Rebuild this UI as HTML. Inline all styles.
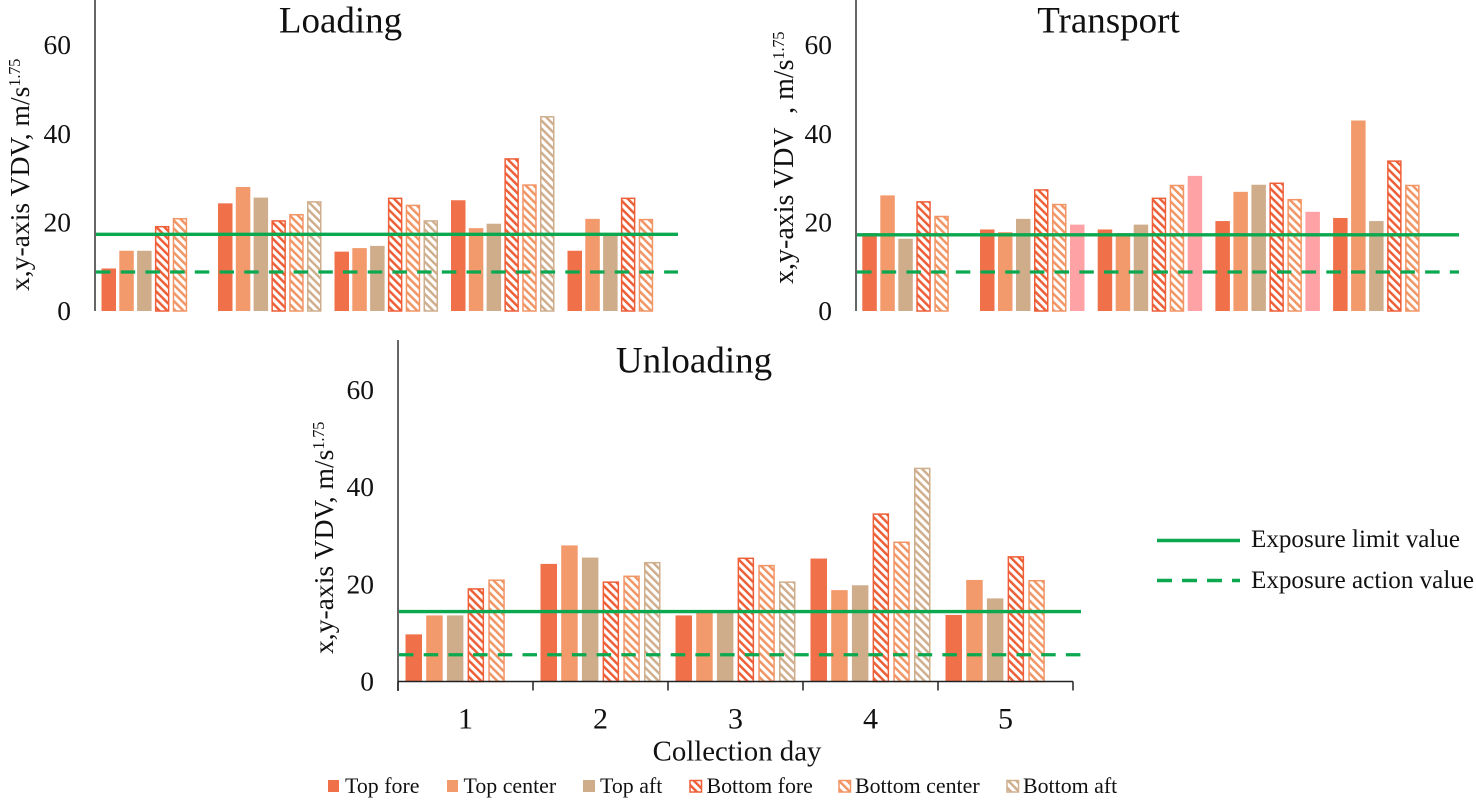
<!DOCTYPE html>
<html lang="en">
<head>
<meta charset="utf-8">
<title>x,y-axis VDV by collection day</title>
<style>
html,body{margin:0;padding:0;background:#fff;width:1476px;height:804px;overflow:hidden}
svg{display:block}
text{font-family:"Liberation Serif",serif;fill:#111}
</style>
</head>
<body>
<svg id="figure" xmlns="http://www.w3.org/2000/svg" width="1476" height="804" viewBox="0 0 1476 804">
  <defs>
    <pattern id="hatch-fore" patternUnits="userSpaceOnUse" width="5.7" height="5.7" patternTransform="rotate(-45)"><rect width="5.7" height="5.7" fill="#fff"/><rect width="2.5" height="5.7" fill="#EE5F38"/></pattern>
    <pattern id="hatch-center" patternUnits="userSpaceOnUse" width="5.7" height="5.7" patternTransform="rotate(-45)"><rect width="5.7" height="5.7" fill="#fff"/><rect width="2.5" height="5.7" fill="#F29565"/></pattern>
    <pattern id="hatch-aft" patternUnits="userSpaceOnUse" width="5.7" height="5.7" patternTransform="rotate(-45)"><rect width="5.7" height="5.7" fill="#fff"/><rect width="2.5" height="5.7" fill="#CFAE8D"/></pattern>
  </defs>

  <text x="340.5" y="32.5" font-size="37" text-anchor="middle">Loading</text>
  <text x="1108.5" y="32.5" font-size="37" text-anchor="middle">Transport</text>
  <text x="694" y="372.5" font-size="37" text-anchor="middle">Unloading</text>

  <text transform="translate(29,291) rotate(-90)" font-size="27.6">x,y-axis VDV, m/s<tspan font-size="16.5" letter-spacing="-0.3" dy="-9">1.75</tspan></text>
  <text transform="translate(793,284) rotate(-90)" font-size="28" xml:space="preserve">x,y-axis VDV  , m/s<tspan font-size="16.5" letter-spacing="-0.3" dy="-9">1.75</tspan></text>
  <text transform="translate(333,654) rotate(-90)" font-size="27.6">x,y-axis VDV, m/s<tspan font-size="16.5" letter-spacing="-0.3" dy="-9">1.75</tspan></text>

  <text x="737" y="760.5" font-size="28.8" text-anchor="middle">Collection day</text>

  <g font-size="21.9">
    <rect x="328" y="780" width="11" height="12" fill="#F0704A"/>
    <text x="345" y="793">Top fore</text>
    <rect x="447" y="780" width="11" height="12" fill="#F29A6B"/>
    <text x="463.5" y="793">Top center</text>
    <rect x="583" y="780" width="12" height="12" fill="#CFAD8A"/>
    <text x="600" y="793">Top aft</text>
    <rect x="690" y="780.5" width="11.5" height="11.5" fill="url(#hatch-fore)" stroke="#EE5F38" stroke-width="1.5"/>
    <text x="706.5" y="793">Bottom fore</text>
    <rect x="839" y="780.5" width="11.5" height="11.5" fill="url(#hatch-center)" stroke="#F29565" stroke-width="1.5"/>
    <text x="855" y="793">Bottom center</text>
    <rect x="1007" y="780.5" width="11.5" height="11.5" fill="url(#hatch-aft)" stroke="#CFAE8D" stroke-width="1.5"/>
    <text x="1023" y="793">Bottom aft</text>
  </g>

  <g font-size="25.1">
    <line x1="1157" x2="1240" y1="540.5" y2="540.5" stroke="#0BA850" stroke-width="3.4"/>
    <text x="1251" y="547">Exposure limit value</text>
    <line x1="1157" x2="1240" y1="580.5" y2="580.5" stroke="#0BA850" stroke-width="3.4" stroke-dasharray="15 10"/>
    <text x="1251" y="588">Exposure action value</text>
  </g>
</svg>

<script>
// Shared categories and tick labels
const days = ['1', '2', '3', '4', '5'];
const yTicks = [0, 20, 40, 60];

// Loading values (null means no bar)
const loadingTopFore = [9.6, 24.3, 13.4, 25.0, 13.6];
const loadingTopCenter = [13.6, 28.0, 14.2, 18.7, 20.8];
const loadingTopAft = [13.6, 25.6, 14.7, 19.7, 17.0];
const loadingBottomFore = [19.2, 20.5, 25.6, 34.5, 25.6];
const loadingBottomCenter = [21.0, 21.9, 24.0, 28.6, 20.8];
const loadingBottomAft = [null, 24.8, 20.5, 44.0, null];

// Transport values
const transportTopFore = [17.6, 18.4, 18.4, 20.3, 21.0];
const transportTopCenter = [26.1, 17.8, 17.6, 26.9, 43.0];
const transportTopAft = [16.3, 20.8, 19.5, 28.5, 20.3];
const transportBottomFore = [24.8, 27.5, 25.6, 29.0, 34.0];
const transportBottomCenter = [21.5, 24.2, 28.5, 25.3, 28.5];
const transportBottomAft = [null, 19.5, 30.5, 22.4, null];

// Unloading values
const unloadingTopFore = [9.7, 24.2, 13.6, 25.3, 13.7];
const unloadingTopCenter = [13.6, 28.0, 14.2, 18.8, 20.9];
const unloadingTopAft = [13.6, 25.5, 14.7, 19.8, 17.1];
const unloadingBottomFore = [19.2, 20.6, 25.5, 34.6, 25.8];
const unloadingBottomCenter = [21.0, 21.8, 24.0, 28.8, 20.9];
const unloadingBottomAft = [null, 24.6, 20.6, 44.0, null];

// Exposure thresholds [limit, action]
const loadingThresholds = [17.3, 8.8];
const transportThresholds = [17.2, 8.8];
const unloadingThresholds = [14.4, 5.5];

const NS = 'http://www.w3.org/2000/svg';
const figure = document.getElementById('figure');

const seriesKeys = ['top-fore', 'top-center', 'top-aft', 'bottom-fore', 'bottom-center', 'bottom-aft'];

function node(tag, attrs, parent) {
  const el = document.createElementNS(NS, tag);
  for (const k in attrs) el.setAttribute(k, attrs[k]);
  parent.appendChild(el);
  return el;
}

function seriesStyle(index, solidLast) {
  if (index === 0) return { fill: '#F0704A' };
  if (index === 1) return { fill: '#F29A6B' };
  if (index === 2) return { fill: '#CFAD8A' };
  if (index === 3) return { fill: 'url(#hatch-fore)', stroke: '#EE5F38' };
  if (index === 4) return { fill: 'url(#hatch-center)', stroke: '#F29565' };
  return solidLast ? { fill: '#FFA2A6' } : { fill: 'url(#hatch-aft)', stroke: '#CFAE8D' };
}

function drawPanel(p) {
  const group = node('g', {}, figure);
  
  

  const yScale = v => p.y0 - v * p.unit;
  const xScale = (day, s) => p.x0 + p.inset + day * p.groupStep + s * p.barStep;

  yTicks.forEach(t => {
    const label = node('text', { x: p.x0 - 24, y: yScale(t) + 9, 'font-size': 27.5, 'text-anchor': 'end' }, group);
    
    
    label.textContent = t;
  });

  p.series.forEach((values, s) => {
    values.forEach((v, d) => {
      if (v === null) return;
      const style = seriesStyle(s, p.solidLast);
      const inset = style.stroke ? 0.75 : 0;
      const top = yScale(v);
      const bar = node('rect', {
        x: xScale(d, s) + inset,
        y: top + inset,
        width: p.barWidth - inset * 2,
        height: Math.max(0, yScale(0) - top - inset),
        fill: style.fill
      }, group);
      if (style.stroke) {
        bar.setAttribute('stroke', style.stroke);
        bar.setAttribute('stroke-width', '1.5');
      }
      
      
    });
  });

  const yAxis = node('line', { x1: p.x0, x2: p.x0, y1: p.axisTop, y2: p.axisBottom, stroke: '#333', 'stroke-width': 1.5 }, group);
  
  

  if (p.showX) {
    const xAxis = node('line', { x1: p.x0, x2: p.x0 + p.groupStep * days.length, y1: p.y0, y2: p.y0, stroke: '#222', 'stroke-width': 1.5 }, group);
    
    
    for (let i = 0; i <= days.length; i++) {
      const tick = node('line', { x1: p.x0 + i * p.groupStep, x2: p.x0 + i * p.groupStep, y1: p.y0, y2: p.y0 + 9, stroke: '#222', 'stroke-width': 1.5 }, group);
      
      
    }
    days.forEach((d, i) => {
      const label = node('text', { x: p.x0 + (i + 0.5) * p.groupStep, y: 728.5, 'font-size': 30, 'text-anchor': 'middle' }, group);
      
      
      label.textContent = d;
    });
  }

  const limit = node('line', { x1: p.lineStart, x2: p.lineEnd, y1: yScale(p.thresholds[0]), y2: yScale(p.thresholds[0]), stroke: '#0BA850', 'stroke-width': 3.4 }, group);
  
  

  const action = node('line', { x1: p.lineStart, x2: p.lineEnd, y1: yScale(p.thresholds[1]), y2: yScale(p.thresholds[1]), stroke: '#0BA850', 'stroke-width': 3.2, 'stroke-dasharray': '14.5 10.2' }, group);
  
  
}

drawPanel({
  name: 'loading', x0: 95, y0: 311, unit: 4.43, axisTop: 0, axisBottom: 311,
  inset: 6.5, groupStep: 116.5, barStep: 17.8, barWidth: 14.5,
  lineStart: 96, lineEnd: 678, showX: false, solidLast: false,
  thresholds: loadingThresholds,
  series: [loadingTopFore, loadingTopCenter, loadingTopAft, loadingBottomFore, loadingBottomCenter, loadingBottomAft]
});

drawPanel({
  name: 'transport', x0: 856, y0: 311, unit: 4.43, axisTop: 0, axisBottom: 311,
  inset: 6.3, groupStep: 117.7, barStep: 18, barWidth: 14.5,
  lineStart: 857, lineEnd: 1459, showX: false, solidLast: true,
  thresholds: transportThresholds,
  series: [transportTopFore, transportTopCenter, transportTopAft, transportBottomFore, transportBottomCenter, transportBottomAft]
});

drawPanel({
  name: 'unloading', x0: 398, y0: 681.5, unit: 4.86, axisTop: 340, axisBottom: 691,
  inset: 7.5, groupStep: 135, barStep: 20.7, barWidth: 16.5,
  lineStart: 399, lineEnd: 1081, showX: true, solidLast: false,
  thresholds: unloadingThresholds,
  series: [unloadingTopFore, unloadingTopCenter, unloadingTopAft, unloadingBottomFore, unloadingBottomCenter, unloadingBottomAft]
});
</script>
</body>
</html>
